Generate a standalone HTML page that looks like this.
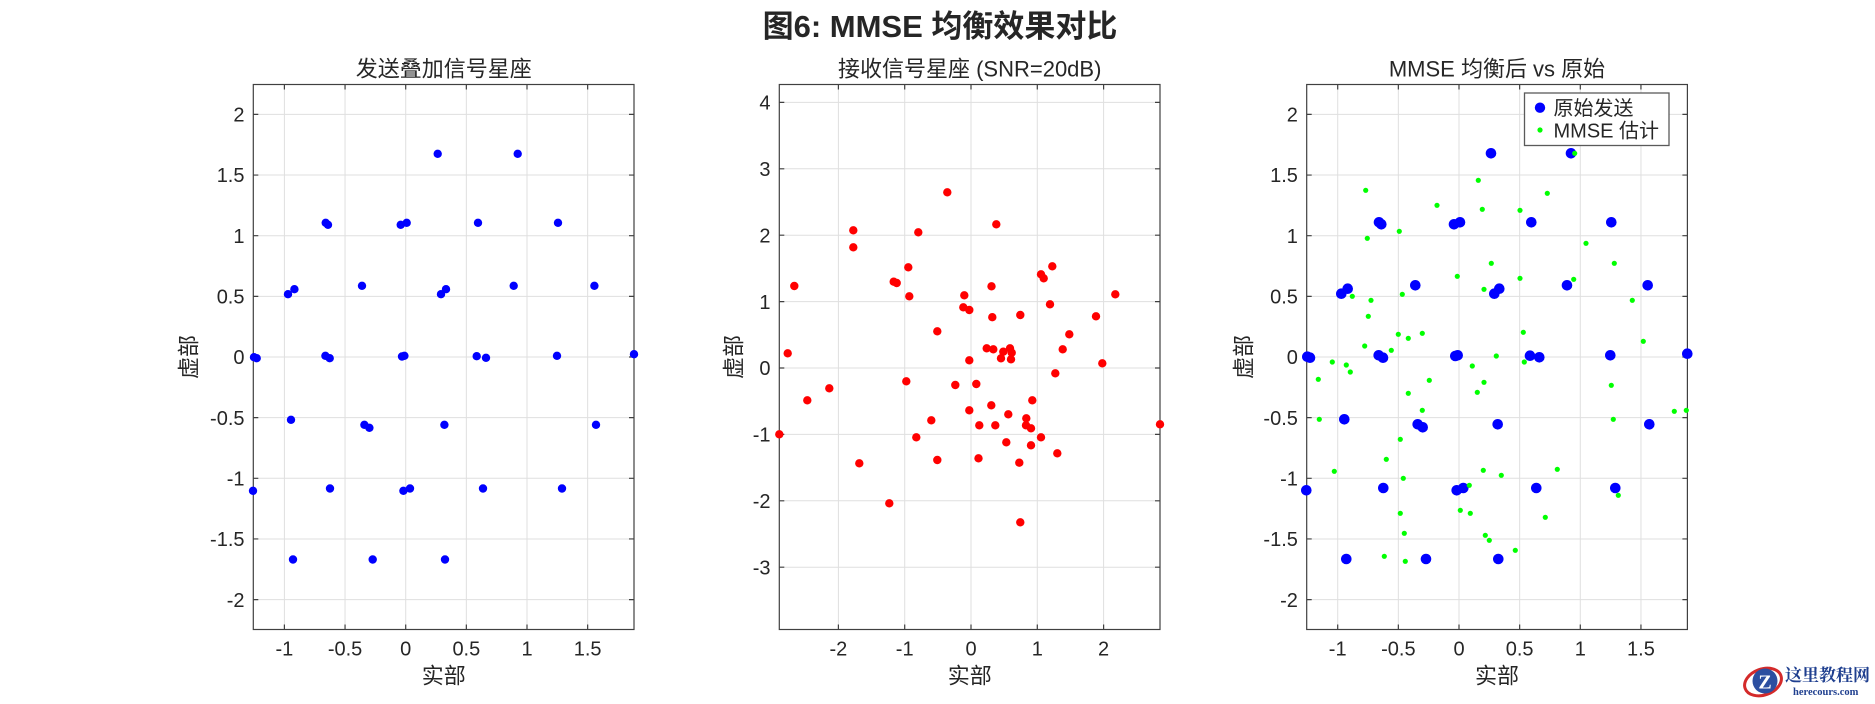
<!DOCTYPE html>
<html>
<head>
<meta charset="utf-8">
<style>
html,body{margin:0;padding:0;background:#fff;}
body{width:1875px;height:704px;overflow:hidden;}
svg{display:block;}
text{font-family:"Liberation Sans","Noto Sans CJK SC",sans-serif;fill:#262626;}
</style>
</head>
<body>
<svg width="1875" height="704" viewBox="0 0 1875 704" xmlns="http://www.w3.org/2000/svg">
<rect x="0" y="0" width="1875" height="704" fill="#fff"/>

<!-- Main title -->
<text x="940" y="36.8" font-size="31" font-weight="bold" text-anchor="middle" fill="#000">图6: MMSE 均衡效果对比</text>

<!-- ================= PANEL 1 ================= -->
<g>
  <rect x="253.3" y="84.5" width="380.7" height="545" fill="#fff"/>
  <g stroke="#dfdfdf" stroke-width="1">
    <line x1="284.4" y1="84.5" x2="284.4" y2="629.5"/>
    <line x1="345.05" y1="84.5" x2="345.05" y2="629.5"/>
    <line x1="405.7" y1="84.5" x2="405.7" y2="629.5"/>
    <line x1="466.35" y1="84.5" x2="466.35" y2="629.5"/>
    <line x1="527" y1="84.5" x2="527" y2="629.5"/>
    <line x1="587.65" y1="84.5" x2="587.65" y2="629.5"/>
    <line x1="253.3" y1="114.4" x2="634" y2="114.4"/>
    <line x1="253.3" y1="175.05" x2="634" y2="175.05"/>
    <line x1="253.3" y1="235.7" x2="634" y2="235.7"/>
    <line x1="253.3" y1="296.35" x2="634" y2="296.35"/>
    <line x1="253.3" y1="357" x2="634" y2="357"/>
    <line x1="253.3" y1="417.65" x2="634" y2="417.65"/>
    <line x1="253.3" y1="478.3" x2="634" y2="478.3"/>
    <line x1="253.3" y1="538.95" x2="634" y2="538.95"/>
    <line x1="253.3" y1="599.6" x2="634" y2="599.6"/>
  </g>
  <g stroke="#404040" stroke-width="1.2">
    <path d="M284.4 629.5v-5M345.05 629.5v-5M405.7 629.5v-5M466.35 629.5v-5M527 629.5v-5M587.65 629.5v-5"/>
    <path d="M284.4 84.5v5M345.05 84.5v5M405.7 84.5v5M466.35 84.5v5M527 84.5v5M587.65 84.5v5"/>
    <path d="M253.3 114.4h5M253.3 175.05h5M253.3 235.7h5M253.3 296.35h5M253.3 357h5M253.3 417.65h5M253.3 478.3h5M253.3 538.95h5M253.3 599.6h5"/>
    <path d="M634 114.4h-5M634 175.05h-5M634 235.7h-5M634 296.35h-5M634 357h-5M634 417.65h-5M634 478.3h-5M634 538.95h-5M634 599.6h-5"/>
    <rect x="253.3" y="84.5" width="380.7" height="545" fill="none"/>
  </g>
  <g fill="#0000ff">
    <circle cx="437.7" cy="153.8" r="4.2"/><circle cx="517.7" cy="153.8" r="4.2"/>
    <circle cx="325.7" cy="222.8" r="4.2"/><circle cx="328" cy="224.8" r="4.2"/>
    <circle cx="400.7" cy="224.8" r="4.2"/><circle cx="406.7" cy="222.8" r="4.2"/>
    <circle cx="478" cy="222.8" r="4.2"/><circle cx="558" cy="222.8" r="4.2"/>
    <circle cx="288" cy="294.2" r="4.2"/><circle cx="294.4" cy="289.2" r="4.2"/>
    <circle cx="362" cy="285.8" r="4.2"/><circle cx="441" cy="294.2" r="4.2"/>
    <circle cx="446" cy="289.2" r="4.2"/><circle cx="513.7" cy="285.8" r="4.2"/>
    <circle cx="594.4" cy="285.8" r="4.2"/>
    <circle cx="254" cy="357.2" r="4.2"/><circle cx="256.7" cy="358.2" r="4.2"/>
    <circle cx="325.4" cy="355.8" r="4.2"/><circle cx="329.7" cy="358.2" r="4.2"/>
    <circle cx="402" cy="356.5" r="4.2"/><circle cx="404.4" cy="355.8" r="4.2"/>
    <circle cx="476.7" cy="356.2" r="4.2"/><circle cx="486" cy="357.8" r="4.2"/>
    <circle cx="557" cy="355.8" r="4.2"/><circle cx="634" cy="354.2" r="4.2"/>
    <circle cx="291" cy="419.8" r="4.2"/><circle cx="364.4" cy="424.8" r="4.2"/>
    <circle cx="369.4" cy="427.8" r="4.2"/><circle cx="444.4" cy="424.8" r="4.2"/>
    <circle cx="596" cy="424.8" r="4.2"/>
    <circle cx="253" cy="490.8" r="4.2"/><circle cx="330" cy="488.5" r="4.2"/>
    <circle cx="403.4" cy="490.8" r="4.2"/><circle cx="410" cy="488.5" r="4.2"/>
    <circle cx="483" cy="488.5" r="4.2"/><circle cx="562" cy="488.5" r="4.2"/>
    <circle cx="293" cy="559.5" r="4.2"/><circle cx="372.7" cy="559.5" r="4.2"/>
    <circle cx="445" cy="559.5" r="4.2"/>
  </g>
  <g font-size="20" text-anchor="middle">
    <text x="284.4" y="655.5">-1</text>
    <text x="345.05" y="655.5">-0.5</text>
    <text x="405.7" y="655.5">0</text>
    <text x="466.35" y="655.5">0.5</text>
    <text x="527" y="655.5">1</text>
    <text x="587.65" y="655.5">1.5</text>
  </g>
  <g font-size="20" text-anchor="end">
    <text x="244.5" y="121.6">2</text>
    <text x="244.5" y="182.2">1.5</text>
    <text x="244.5" y="242.9">1</text>
    <text x="244.5" y="303.5">0.5</text>
    <text x="244.5" y="364.2">0</text>
    <text x="244.5" y="424.8">-0.5</text>
    <text x="244.5" y="485.5">-1</text>
    <text x="244.5" y="546.1">-1.5</text>
    <text x="244.5" y="606.8">-2</text>
  </g>
  <text x="443.7" y="76.5" font-size="22" text-anchor="middle">发送叠加信号星座</text>
  <text x="443.7" y="683.4" font-size="22" text-anchor="middle">实部</text>
  <text transform="translate(196.7,357) rotate(-90)" font-size="22" text-anchor="middle">虚部</text>
</g>

<!-- ================= PANEL 2 ================= -->
<g>
  <rect x="779.3" y="84.5" width="380.7" height="545" fill="#fff"/>
  <g stroke="#dfdfdf" stroke-width="1">
    <line x1="838.4" y1="84.5" x2="838.4" y2="629.5"/>
    <line x1="904.7" y1="84.5" x2="904.7" y2="629.5"/>
    <line x1="971" y1="84.5" x2="971" y2="629.5"/>
    <line x1="1037.3" y1="84.5" x2="1037.3" y2="629.5"/>
    <line x1="1103.6" y1="84.5" x2="1103.6" y2="629.5"/>
    <line x1="779.3" y1="102.4" x2="1160" y2="102.4"/>
    <line x1="779.3" y1="168.8" x2="1160" y2="168.8"/>
    <line x1="779.3" y1="235.2" x2="1160" y2="235.2"/>
    <line x1="779.3" y1="301.6" x2="1160" y2="301.6"/>
    <line x1="779.3" y1="368" x2="1160" y2="368"/>
    <line x1="779.3" y1="434.4" x2="1160" y2="434.4"/>
    <line x1="779.3" y1="500.8" x2="1160" y2="500.8"/>
    <line x1="779.3" y1="567.2" x2="1160" y2="567.2"/>
  </g>
  <g stroke="#404040" stroke-width="1.2">
    <path d="M838.4 629.5v-5M904.7 629.5v-5M971 629.5v-5M1037.3 629.5v-5M1103.6 629.5v-5"/>
    <path d="M838.4 84.5v5M904.7 84.5v5M971 84.5v5M1037.3 84.5v5M1103.6 84.5v5"/>
    <path d="M779.3 102.4h5M779.3 168.8h5M779.3 235.2h5M779.3 301.6h5M779.3 368h5M779.3 434.4h5M779.3 500.8h5M779.3 567.2h5"/>
    <path d="M1160 102.4h-5M1160 168.8h-5M1160 235.2h-5M1160 301.6h-5M1160 368h-5M1160 434.4h-5M1160 500.8h-5M1160 567.2h-5"/>
    <rect x="779.3" y="84.5" width="380.7" height="545" fill="none"/>
  </g>
  <g fill="#ff0000">
    <circle cx="794.3" cy="286" r="4.2"/><circle cx="853.3" cy="230.3" r="4.2"/>
    <circle cx="853.3" cy="247.3" r="4.2"/><circle cx="918.3" cy="232.3" r="4.2"/>
    <circle cx="947.3" cy="192.3" r="4.2"/><circle cx="908.3" cy="267.3" r="4.2"/>
    <circle cx="909.3" cy="296.3" r="4.2"/><circle cx="893.7" cy="281.7" r="4.2"/>
    <circle cx="896.7" cy="283" r="4.2"/><circle cx="937.3" cy="331.3" r="4.2"/>
    <circle cx="964.3" cy="295.3" r="4.2"/><circle cx="963.3" cy="307.3" r="4.2"/>
    <circle cx="969.3" cy="310" r="4.2"/><circle cx="991.5" cy="286.3" r="4.2"/>
    <circle cx="992.3" cy="317.2" r="4.2"/><circle cx="996.3" cy="224.3" r="4.2"/>
    <circle cx="1020.3" cy="315" r="4.2"/><circle cx="1041" cy="274.3" r="4.2"/>
    <circle cx="1043.7" cy="278.3" r="4.2"/><circle cx="1052.3" cy="266.3" r="4.2"/>
    <circle cx="1050" cy="304.3" r="4.2"/><circle cx="1069.3" cy="334.3" r="4.2"/>
    <circle cx="1096" cy="316.3" r="4.2"/><circle cx="1115.3" cy="294.3" r="4.2"/>
    <circle cx="787.7" cy="353.3" r="4.2"/><circle cx="807.3" cy="400.3" r="4.2"/>
    <circle cx="829.3" cy="388.3" r="4.2"/><circle cx="779.3" cy="434.3" r="4.2"/>
    <circle cx="906.3" cy="381.3" r="4.2"/><circle cx="955.3" cy="385" r="4.2"/>
    <circle cx="969.3" cy="360.3" r="4.2"/><circle cx="976.3" cy="384" r="4.2"/>
    <circle cx="986.7" cy="348.3" r="4.2"/><circle cx="993.3" cy="349.3" r="4.2"/>
    <circle cx="969.3" cy="410.3" r="4.2"/><circle cx="991.3" cy="405.3" r="4.2"/>
    <circle cx="931.3" cy="420.3" r="4.2"/><circle cx="979.3" cy="425.3" r="4.2"/>
    <circle cx="995.3" cy="425.3" r="4.2"/><circle cx="916.3" cy="437.3" r="4.2"/>
    <circle cx="937.3" cy="460" r="4.2"/><circle cx="978.5" cy="458.3" r="4.2"/>
    <circle cx="859.3" cy="463.3" r="4.2"/><circle cx="889.3" cy="503.3" r="4.2"/>
    <circle cx="1003.3" cy="351.7" r="4.2"/><circle cx="1010" cy="348.3" r="4.2"/>
    <circle cx="1011.7" cy="352.7" r="4.2"/><circle cx="1001" cy="358.3" r="4.2"/>
    <circle cx="1011" cy="359.3" r="4.2"/><circle cx="1062.7" cy="349.3" r="4.2"/>
    <circle cx="1102.3" cy="363.3" r="4.2"/><circle cx="1055.3" cy="373.3" r="4.2"/>
    <circle cx="1032.3" cy="400.3" r="4.2"/><circle cx="1008.3" cy="414.3" r="4.2"/>
    <circle cx="1026.3" cy="418.3" r="4.2"/><circle cx="1026" cy="425.3" r="4.2"/>
    <circle cx="1031" cy="428.3" r="4.2"/><circle cx="1041" cy="437.3" r="4.2"/>
    <circle cx="1006.3" cy="442.3" r="4.2"/><circle cx="1031" cy="445.3" r="4.2"/>
    <circle cx="1057.3" cy="453.3" r="4.2"/><circle cx="1019.3" cy="462.7" r="4.2"/>
    <circle cx="1020.3" cy="522.3" r="4.2"/><circle cx="1160" cy="424.3" r="4.2"/>
  </g>
  <g font-size="20" text-anchor="middle">
    <text x="838.4" y="655.5">-2</text>
    <text x="904.7" y="655.5">-1</text>
    <text x="971" y="655.5">0</text>
    <text x="1037.3" y="655.5">1</text>
    <text x="1103.6" y="655.5">2</text>
  </g>
  <g font-size="20" text-anchor="end">
    <text x="770.5" y="109.6">4</text>
    <text x="770.5" y="176">3</text>
    <text x="770.5" y="242.4">2</text>
    <text x="770.5" y="308.8">1</text>
    <text x="770.5" y="375.2">0</text>
    <text x="770.5" y="441.6">-1</text>
    <text x="770.5" y="508">-2</text>
    <text x="770.5" y="574.4">-3</text>
  </g>
  <text x="969.7" y="76.5" font-size="22" text-anchor="middle">接收信号星座 (SNR=20dB)</text>
  <text x="969.7" y="683.4" font-size="22" text-anchor="middle">实部</text>
  <text transform="translate(741.4,357) rotate(-90)" font-size="22" text-anchor="middle">虚部</text>
</g>

<!-- ================= PANEL 3 ================= -->
<g>
  <rect x="1306.7" y="84.5" width="380.7" height="545" fill="#fff"/>
  <g stroke="#dfdfdf" stroke-width="1">
    <line x1="1337.7" y1="84.5" x2="1337.7" y2="629.5"/>
    <line x1="1398.35" y1="84.5" x2="1398.35" y2="629.5"/>
    <line x1="1459" y1="84.5" x2="1459" y2="629.5"/>
    <line x1="1519.65" y1="84.5" x2="1519.65" y2="629.5"/>
    <line x1="1580.3" y1="84.5" x2="1580.3" y2="629.5"/>
    <line x1="1640.95" y1="84.5" x2="1640.95" y2="629.5"/>
    <line x1="1306.7" y1="114.4" x2="1687.4" y2="114.4"/>
    <line x1="1306.7" y1="175.05" x2="1687.4" y2="175.05"/>
    <line x1="1306.7" y1="235.7" x2="1687.4" y2="235.7"/>
    <line x1="1306.7" y1="296.35" x2="1687.4" y2="296.35"/>
    <line x1="1306.7" y1="357" x2="1687.4" y2="357"/>
    <line x1="1306.7" y1="417.65" x2="1687.4" y2="417.65"/>
    <line x1="1306.7" y1="478.3" x2="1687.4" y2="478.3"/>
    <line x1="1306.7" y1="538.95" x2="1687.4" y2="538.95"/>
    <line x1="1306.7" y1="599.6" x2="1687.4" y2="599.6"/>
  </g>
  <g stroke="#404040" stroke-width="1.2">
    <path d="M1337.7 629.5v-5M1398.35 629.5v-5M1459 629.5v-5M1519.65 629.5v-5M1580.3 629.5v-5M1640.95 629.5v-5"/>
    <path d="M1337.7 84.5v5M1398.35 84.5v5M1459 84.5v5M1519.65 84.5v5M1580.3 84.5v5M1640.95 84.5v5"/>
    <path d="M1306.7 114.4h5M1306.7 175.05h5M1306.7 235.7h5M1306.7 296.35h5M1306.7 357h5M1306.7 417.65h5M1306.7 478.3h5M1306.7 538.95h5M1306.7 599.6h5"/>
    <path d="M1687.4 114.4h-5M1687.4 175.05h-5M1687.4 235.7h-5M1687.4 296.35h-5M1687.4 357h-5M1687.4 417.65h-5M1687.4 478.3h-5M1687.4 538.95h-5M1687.4 599.6h-5"/>
    <rect x="1306.7" y="84.5" width="380.7" height="545" fill="none"/>
  </g>
  <g fill="#0000ff">
    <circle cx="1491" cy="153.3" r="5.3"/><circle cx="1571" cy="153.3" r="5.3"/>
    <circle cx="1379" cy="222.3" r="5.3"/><circle cx="1381.3" cy="224.3" r="5.3"/>
    <circle cx="1454" cy="224.3" r="5.3"/><circle cx="1460" cy="222.3" r="5.3"/>
    <circle cx="1531.3" cy="222.3" r="5.3"/><circle cx="1611.3" cy="222.3" r="5.3"/>
    <circle cx="1341.3" cy="293.7" r="5.3"/><circle cx="1347.7" cy="288.7" r="5.3"/>
    <circle cx="1415.3" cy="285.3" r="5.3"/><circle cx="1494.3" cy="293.7" r="5.3"/>
    <circle cx="1499.3" cy="288.7" r="5.3"/><circle cx="1567" cy="285.3" r="5.3"/>
    <circle cx="1647.7" cy="285.3" r="5.3"/>
    <circle cx="1307.3" cy="356.7" r="5.3"/><circle cx="1310" cy="357.7" r="5.3"/>
    <circle cx="1378.7" cy="355.3" r="5.3"/><circle cx="1383" cy="357.7" r="5.3"/>
    <circle cx="1455.3" cy="356" r="5.3"/><circle cx="1457.7" cy="355.3" r="5.3"/>
    <circle cx="1530" cy="355.7" r="5.3"/><circle cx="1539.3" cy="357.3" r="5.3"/>
    <circle cx="1610.3" cy="355.3" r="5.3"/><circle cx="1687.3" cy="353.7" r="5.3"/>
    <circle cx="1344.3" cy="419.3" r="5.3"/><circle cx="1417.7" cy="424.3" r="5.3"/>
    <circle cx="1422.7" cy="427.3" r="5.3"/><circle cx="1497.7" cy="424.3" r="5.3"/>
    <circle cx="1649.3" cy="424.3" r="5.3"/>
    <circle cx="1306.3" cy="490.3" r="5.3"/><circle cx="1383.3" cy="488" r="5.3"/>
    <circle cx="1456.7" cy="490.3" r="5.3"/><circle cx="1463.3" cy="488" r="5.3"/>
    <circle cx="1536.3" cy="488" r="5.3"/><circle cx="1615.3" cy="488" r="5.3"/>
    <circle cx="1346.3" cy="559" r="5.3"/><circle cx="1426" cy="559" r="5.3"/>
    <circle cx="1498.3" cy="559" r="5.3"/>
  </g>
  <g fill="#00ff00">
    <circle cx="1574.7" cy="153.3" r="2.6"/><circle cx="1478.3" cy="180.3" r="2.6"/>
    <circle cx="1365.7" cy="190.3" r="2.6"/><circle cx="1547.3" cy="193.3" r="2.6"/>
    <circle cx="1437" cy="205.3" r="2.6"/><circle cx="1482.3" cy="209.3" r="2.6"/>
    <circle cx="1520" cy="210.3" r="2.6"/><circle cx="1399.3" cy="231.3" r="2.6"/>
    <circle cx="1367.3" cy="238.3" r="2.6"/><circle cx="1586" cy="243.3" r="2.6"/>
    <circle cx="1491.3" cy="263.3" r="2.6"/><circle cx="1614.3" cy="263.3" r="2.6"/>
    <circle cx="1457.3" cy="276.3" r="2.6"/><circle cx="1520" cy="278.3" r="2.6"/>
    <circle cx="1573.7" cy="279.3" r="2.6"/><circle cx="1484" cy="289.3" r="2.6"/>
    <circle cx="1352.3" cy="296.3" r="2.6"/><circle cx="1402.3" cy="294.3" r="2.6"/>
    <circle cx="1371" cy="300.3" r="2.6"/><circle cx="1632.3" cy="300.3" r="2.6"/>
    <circle cx="1368.3" cy="316.3" r="2.6"/><circle cx="1398.3" cy="334.3" r="2.6"/>
    <circle cx="1408.3" cy="338.3" r="2.6"/><circle cx="1422.3" cy="333.3" r="2.6"/>
    <circle cx="1523.3" cy="332.3" r="2.6"/><circle cx="1364.7" cy="346" r="2.6"/>
    <circle cx="1391.3" cy="350.3" r="2.6"/><circle cx="1643.3" cy="341.3" r="2.6"/>
    <circle cx="1496.3" cy="356" r="2.6"/>
    <circle cx="1332.3" cy="362" r="2.6"/><circle cx="1346.3" cy="365" r="2.6"/>
    <circle cx="1350.3" cy="372" r="2.6"/><circle cx="1318.3" cy="379.3" r="2.6"/>
    <circle cx="1524.3" cy="362" r="2.6"/><circle cx="1472.3" cy="366" r="2.6"/>
    <circle cx="1429.3" cy="380.3" r="2.6"/><circle cx="1484" cy="382.3" r="2.6"/>
    <circle cx="1408.3" cy="393.3" r="2.6"/><circle cx="1477.3" cy="392.3" r="2.6"/>
    <circle cx="1611.3" cy="385.3" r="2.6"/><circle cx="1422.3" cy="410.3" r="2.6"/>
    <circle cx="1319.3" cy="419.3" r="2.6"/><circle cx="1613.3" cy="419.3" r="2.6"/>
    <circle cx="1674.3" cy="411.3" r="2.6"/><circle cx="1686.3" cy="410.3" r="2.6"/>
    <circle cx="1400.3" cy="439.3" r="2.6"/><circle cx="1386.3" cy="459.3" r="2.6"/>
    <circle cx="1334.3" cy="471.3" r="2.6"/><circle cx="1403.3" cy="478.3" r="2.6"/>
    <circle cx="1483.3" cy="470.3" r="2.6"/><circle cx="1501.3" cy="475.3" r="2.6"/>
    <circle cx="1557.3" cy="469.3" r="2.6"/><circle cx="1469.3" cy="485.3" r="2.6"/>
    <circle cx="1618.3" cy="495.3" r="2.6"/><circle cx="1400.3" cy="513.3" r="2.6"/>
    <circle cx="1460.3" cy="510.3" r="2.6"/><circle cx="1470.3" cy="513.3" r="2.6"/>
    <circle cx="1545.3" cy="517.3" r="2.6"/><circle cx="1404.3" cy="533.3" r="2.6"/>
    <circle cx="1485.3" cy="535.3" r="2.6"/><circle cx="1489.3" cy="540.3" r="2.6"/>
    <circle cx="1515.3" cy="550.3" r="2.6"/><circle cx="1384.3" cy="556.3" r="2.6"/>
    <circle cx="1405.3" cy="561.3" r="2.6"/>
  </g>
  <!-- Legend -->
  <rect x="1524.5" y="93" width="144.5" height="52.5" fill="#fff" stroke="#5a5a5a" stroke-width="1.3"/>
  <circle cx="1540" cy="107.7" r="5.2" fill="#0000ff"/>
  <circle cx="1540" cy="130" r="2.6" fill="#00ff00"/>
  <text x="1553.5" y="115" font-size="20">原始发送</text>
  <text x="1553.5" y="137.5" font-size="20">MMSE 估计</text>

  <g font-size="20" text-anchor="middle">
    <text x="1337.7" y="655.5">-1</text>
    <text x="1398.35" y="655.5">-0.5</text>
    <text x="1459" y="655.5">0</text>
    <text x="1519.65" y="655.5">0.5</text>
    <text x="1580.3" y="655.5">1</text>
    <text x="1640.95" y="655.5">1.5</text>
  </g>
  <g font-size="20" text-anchor="end">
    <text x="1297.9" y="121.6">2</text>
    <text x="1297.9" y="182.2">1.5</text>
    <text x="1297.9" y="242.9">1</text>
    <text x="1297.9" y="303.5">0.5</text>
    <text x="1297.9" y="364.2">0</text>
    <text x="1297.9" y="424.8">-0.5</text>
    <text x="1297.9" y="485.5">-1</text>
    <text x="1297.9" y="546.1">-1.5</text>
    <text x="1297.9" y="606.8">-2</text>
  </g>
  <text x="1497" y="76.5" font-size="22" text-anchor="middle">MMSE 均衡后 vs 原始</text>
  <text x="1497" y="683.4" font-size="22" text-anchor="middle">实部</text>
  <text transform="translate(1251.4,357) rotate(-90)" font-size="22" text-anchor="middle">虚部</text>
</g>

<!-- Watermark -->
<g>
  <ellipse cx="1763" cy="682" rx="19" ry="13" fill="none" stroke="#d42a2a" stroke-width="3" transform="rotate(-20 1763 682)"/>
  <circle cx="1765" cy="681" r="12.5" fill="#2b4ea0"/>
  <text x="1765" y="688.5" font-size="20" font-weight="bold" text-anchor="middle" style="fill:#fff;font-family:'Liberation Serif',serif;">Z</text>
  <text x="1785" y="681" font-size="17" font-weight="bold" style="fill:#1f3f8f;font-family:'Liberation Serif','Noto Serif CJK SC',serif;">这里教程网</text>
  <text x="1793" y="695" font-size="10.5" font-weight="bold" style="fill:#1f3f8f;font-family:'Liberation Serif',serif;">herecours.com</text>
</g>
</svg>
</body>
</html>
